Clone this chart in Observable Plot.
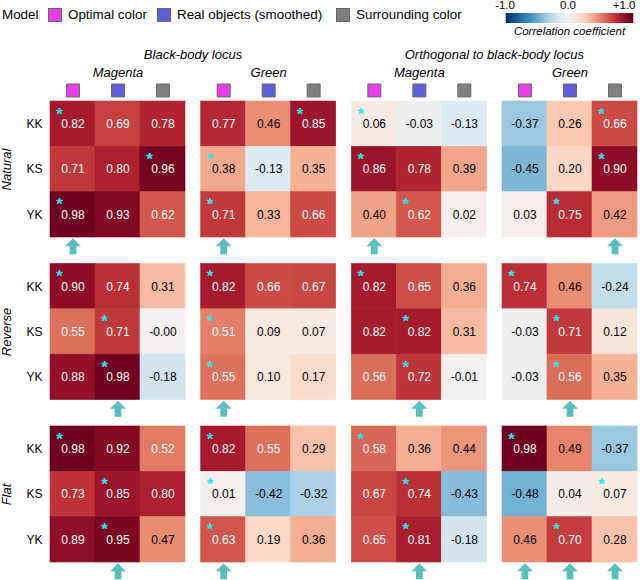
<!DOCTYPE html>
<html>
<head>
<meta charset="utf-8">
<script src="https://cdn.jsdelivr.net/npm/d3@7"></script>
<script src="https://cdn.jsdelivr.net/npm/@observablehq/plot@0.6"></script>
<style>
  html, body { margin: 0; padding: 0; background: #fff; }
  body { width: 640px; height: 580px; overflow: hidden; font-family: "Liberation Sans", Arial, sans-serif; }
  #header { position: relative; width: 640px; height: 40px; }
  .lg { position: absolute; font-size: 13.4px; line-height: 14px; top: 8px; color: #000; white-space: nowrap; }
  .sw { position: absolute; top: 8px; width: 14px; height: 14px; box-sizing: border-box; border: 1px solid #666; }
  #cbar { position: absolute; left: 490px; top: 0px; }
  #chart svg { display: block; }
</style>
</head>
<body>
<div id="header"></div>
<div id="chart"></div>
<script>
// ---------------- data ----------------
const conditions = ["Natural", "Reverse", "Flat"];
const panelKeys = ["bb-magenta", "bb-green", "orth-magenta", "orth-green"];
const panelTitles = ["Magenta", "Green", "Magenta", "Green"];
const groupTitles = ["Black-body locus", "Orthogonal to black-body locus"]; // above panels 0-1 and 2-3
const observers = ["KK", "KS", "YK"];
const models = ["Optimal color", "Real objects (smoothed)", "Surrounding color"];
const modelColors = ["#e83de8", "#5d5ddc", "#808080"];
const colorTicks = [-1, 0, 1];

// values[panel][observer][model]
const naturalValues = [
  [[0.82, 0.69, 0.78], [0.71, 0.80, 0.96], [0.98, 0.93, 0.62]],
  [[0.77, 0.46, 0.85], [0.38, -0.13, 0.35], [0.71, 0.33, 0.66]],
  [[0.06, -0.03, -0.13], [0.86, 0.78, 0.39], [0.40, 0.62, 0.02]],
  [[-0.37, 0.26, 0.66], [-0.45, 0.20, 0.90], [0.03, 0.75, 0.42]]
];
const reverseValues = [
  [[0.90, 0.74, 0.31], [0.55, 0.71, -0.001], [0.88, 0.98, -0.18]],
  [[0.82, 0.66, 0.67], [0.51, 0.09, 0.07], [0.55, 0.10, 0.17]],
  [[0.82, 0.65, 0.36], [0.82, 0.82, 0.31], [0.56, 0.72, -0.01]],
  [[0.74, 0.46, -0.24], [-0.03, 0.71, 0.12], [-0.03, 0.56, 0.35]]
];
const flatValues = [
  [[0.98, 0.92, 0.52], [0.73, 0.85, 0.80], [0.89, 0.95, 0.47]],
  [[0.82, 0.55, 0.29], [0.01, -0.42, -0.32], [0.63, 0.19, 0.36]],
  [[0.58, 0.36, 0.44], [0.67, 0.74, -0.43], [0.65, 0.81, -0.18]],
  [[0.98, 0.49, -0.37], [-0.48, 0.04, 0.07], [0.46, 0.70, 0.28]]
];
// asterisk: model index per [panel][observer]
const naturalStars = [[0, 2, 0], [2, 0, 0], [0, 0, 1], [2, 2, 1]];
const reverseStars = [[0, 1, 1], [0, 0, 0], [0, 1, 1], [0, 1, 1]];
const flatStars = [[0, 1, 1], [0, 0, 0], [0, 1, 1], [0, 2, 1]];
// arrows: model indices per panel
const naturalArrows = [[0], [0], [0], [2]];
const reverseArrows = [[1], [0], [1], [1]];
const flatArrows = [[1], [0], [1], [0, 1, 2]];

// ---------------- build tables ----------------
const valueSets = [naturalValues, reverseValues, flatValues];
const starSets = [naturalStars, reverseStars, flatStars];
const arrowSets = [naturalArrows, reverseArrows, flatArrows];

const cells = [];
const arrows = [];
conditions.forEach((cond, ci) => {
  panelKeys.forEach((panel, pi) => {
    observers.forEach((obs, oi) => {
      models.forEach((model, mi) => {
        cells.push({cond, panel, obs, model, value: valueSets[ci][pi][oi][mi], star: starSets[ci][pi][oi] === mi});
      });
    });
    arrowSets[ci][pi].forEach(mi => arrows.push({cond, panel, model: models[mi]}));
  });
});
const swatches = [];
panelKeys.forEach(panel => models.forEach((model, mi) => swatches.push({panel, model, color: modelColors[mi]})));
const panelHeads = panelKeys.map((panel, i) => ({panel, title: panelTitles[i]}));
const groupHeads = groupTitles.map((title, i) => ({panel: panelKeys[i * 2], title}));

const colorOpts = {type: "linear", domain: [-1, 1], interpolate: t => d3.interpolateRdBu(1 - t)};

const arrowSymbol = {
  draw(context, size) {
    const r = Math.sqrt(size / Math.PI);
    const sw = 0.42 * r;
    context.moveTo(0, -r);
    context.lineTo(r, 0);
    context.lineTo(sw, 0);
    context.lineTo(sw, r);
    context.lineTo(-sw, r);
    context.lineTo(-sw, 0);
    context.lineTo(-r, 0);
    context.closePath();
  }
};

const fontFamily = '"Liberation Sans", Arial, sans-serif';

// ---------------- header legend ----------------
const header = document.getElementById("header");
function addDiv(cls, left, text, bg) {
  const d = document.createElement("div");
  d.className = cls;
  d.style.left = left + "px";
  if (text) d.textContent = text;
  if (bg) d.style.background = bg;
  header.appendChild(d);
}
addDiv("lg", 2, "Model");
const swLeft = [48, 157, 336];
models.forEach((m, i) => {
  addDiv("sw", swLeft[i], null, modelColors[i]);
  addDiv("lg", swLeft[i] + 20, m);
});

const cbar = Plot.plot({
  width: 150, height: 42,
  marginLeft: 16, marginRight: 8, marginTop: 13, marginBottom: 19,
  style: {fontFamily, fontSize: "11.5px", background: "transparent", overflow: "visible"},
  x: {domain: [-1, 1], axis: null},
  color: colorOpts,
  marks: [
    Plot.ruleX(d3.range(-1, 1.0001, 0.01), {x: d => d, stroke: d => d, strokeWidth: 1.6}),
    Plot.text(colorTicks.filter(d => d < 1), {x: d => d, text: d => d.toFixed(1), frameAnchor: "top", lineAnchor: "middle", dy: -8, dx: -1.5, fill: "black"}),
    Plot.text(colorTicks.filter(d => d === 1), {x: d => d, text: d => "+" + d.toFixed(1), frameAnchor: "top", lineAnchor: "middle", textAnchor: "end", dy: -8, dx: 3, fill: "black"}),
    Plot.text(["Correlation coefficient"], {frameAnchor: "bottom", lineAnchor: "middle", dy: 8, text: d => d, fontStyle: "italic", fill: "black"})
  ]
});
cbar.id = "cbar";
header.appendChild(cbar);

// ---------------- main chart ----------------
const fxFirst = () => panelKeys[0];
const chart = Plot.plot({
  width: 640,
  height: 540,
  marginTop: 61,
  marginBottom: 18,
  marginLeft: 50,
  marginRight: 3,
  facet: {marginTop: 0, marginRight: 0, marginBottom: 0, marginLeft: 0},
  style: {fontFamily, fontSize: "12px", background: "white", overflow: "visible"},
  fx: {domain: panelKeys, axis: null, paddingInner: 0.104, paddingOuter: 0, round: false},
  fy: {domain: conditions, axis: null, paddingInner: 0.163, paddingOuter: 0, round: false},
  x: {domain: models, axis: null, padding: 0, round: false},
  y: {domain: observers, axis: null, padding: 0, round: false},
  color: colorOpts,
  marks: [
    Plot.cell(cells, {fx: "panel", fy: "cond", x: "model", y: "obs", fill: "value", stroke: "value", strokeWidth: 0.6, inset: 0}),
    Plot.text(cells, {fx: "panel", fy: "cond", x: "model", y: "obs", text: d => d.value.toFixed(2),
      fill: d => d.value > 0.5 ? "white" : "black", fontSize: 12}),
    Plot.text(cells.filter(d => d.star), {fx: "panel", fy: "cond", x: "model", y: "obs", text: () => "*",
      fill: "#2ee3ef", fontSize: 17, fontWeight: "bold", dx: -13.5, dy: -10}),
    Plot.dot(arrows, {fx: "panel", fy: "cond", x: "model", y: () => "YK", symbol: arrowSymbol, r: 8,
      fill: "#58bfbf", dy: 31.5}),
    Plot.dot(swatches, {fx: "panel", fy: () => conditions[0], x: "model", y: () => "KK", symbol: "square",
      r: 7.3, fill: "color", stroke: "#666", strokeWidth: 1, dy: -33.7}),
    Plot.text(panelHeads, {fx: "panel", fy: () => conditions[0], frameAnchor: "top", lineAnchor: "middle",
      text: "title", dy: -29, fontSize: 13, fontStyle: "italic", fill: "black"}),
    Plot.text(groupHeads, {fx: "panel", fy: () => conditions[0], frameAnchor: "top-right", textAnchor: "middle",
      lineAnchor: "middle", text: "title", dx: 7.5, dy: -47, fontSize: 13, fontStyle: "italic", fill: "black"}),
    Plot.text(conditions, {fx: fxFirst, fy: d => d, frameAnchor: "left", lineAnchor: "middle", textAnchor: "middle",
      text: d => d, rotate: -90, dx: -44, fontSize: 13, fontStyle: "italic", fill: "black"}),
    Plot.axisY({tickSize: 0, tickPadding: 8, fontSize: 12, label: null, color: "black"})
  ]
});
document.getElementById("chart").appendChild(chart);
</script>
</body>
</html>
